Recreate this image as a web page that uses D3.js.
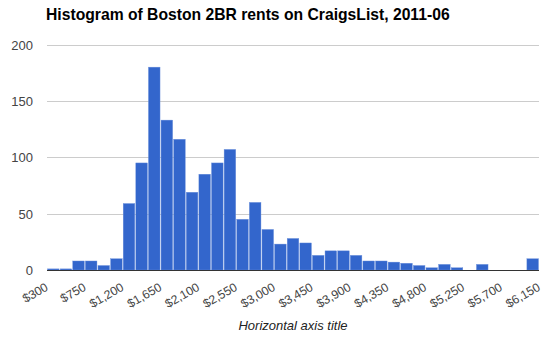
<!DOCTYPE html>
<html>
<head>
<meta charset="utf-8">
<script src="https://cdn.jsdelivr.net/npm/d3@7"></script>
<style>
  html, body { margin: 0; padding: 0; background: #fff; }
  svg { display: block; font-family: "Liberation Sans", Arial, sans-serif; }
</style>
</head>
<body>
<svg id="chart" width="550" height="338"></svg>
<script>
// Lower edge of each $150 rent bin
const binStarts = [300, 450, 600, 750, 900, 1050, 1200, 1350, 1500, 1650, 1800, 1950, 2100,
  2250, 2400, 2550, 2700, 2850, 3000, 3150, 3300, 3450, 3600, 3750, 3900, 4050, 4200,
  4350, 4500, 4650, 4800, 4950, 5100, 5250, 5400, 5550, 5700, 5850, 6000];
// Number of listings in each bin
const counts = [1, 1, 8, 8, 4, 10, 59, 95, 180, 133, 116, 69, 85, 95, 107, 45, 60, 36, 23,
  28, 24, 13, 17, 17, 13, 8, 8, 7, 6, 4, 2, 5, 2, 0, 5, 0, 0, 0, 10];
const binWidth = 150;
const xTicks = [300, 750, 1200, 1650, 2100, 2550, 3000, 3450, 3900, 4350, 4800, 5250, 5700, 6150];
const yTicks = [0, 50, 100, 150, 200];

const titleText = "Histogram of Boston 2BR rents on CraigsList, 2011-06";
const xTitle = "Horizontal axis title";

const svg = d3.select("#chart");
const plotLeft = 47, plotRight = 539, plotTop = 44.6, plotBottom = 270;

const x = d3.scaleLinear().domain([300, 6150]).range([plotLeft, plotRight]);
const y = d3.scaleLinear().domain([0, 200]).range([plotBottom, plotTop]);

// Gridlines and value labels
const yAxis = d3.axisLeft(y).tickValues(yTicks.filter(v => v > 0))
  .tickSize(-(plotRight - plotLeft)).tickFormat("");
svg.append("g")
  .attr("transform", `translate(${plotLeft},0)`)
  .call(yAxis)
  .call(g => g.select(".domain").remove())
  .call(g => g.selectAll("line").attr("stroke", "#cccccc").attr("stroke-width", 1)
    .attr("shape-rendering", "crispEdges"));

svg.append("g").selectAll("text")
  .data(yTicks)
  .join("text")
  .attr("x", 33)
  .attr("y", d => y(d) + 5)
  .attr("text-anchor", "end")
  .attr("font-size", 13)
  .attr("fill", "#444444")
  .text(d => d);

// Bars
svg.append("g").selectAll("rect")
  .data(counts.map((c, i) => ({ start: binStarts[i], count: c })).filter(d => d.count > 0))
  .join("rect")
  .attr("x", d => x(d.start) + 0.5)
  .attr("width", d => x(d.start + binWidth) - x(d.start) - 1)
  .attr("y", d => y(d.count))
  .attr("height", d => y(0) - y(d.count))
  .attr("fill", "#3366cc")
  .attr("stroke", "#6f93dd")
  .attr("stroke-width", 0.4);

// Baseline
svg.append("line")
  .attr("x1", plotLeft).attr("x2", plotRight)
  .attr("y1", y(0) + 0.5).attr("y2", y(0) + 0.5)
  .attr("stroke", "#333333").attr("stroke-width", 1);

// Slanted rent labels
const fmt = d => "$" + d3.format(",")(d);
svg.append("g").selectAll("text")
  .data(xTicks)
  .join("text")
  .attr("transform", d => `translate(${x(d) + 2},289.5) rotate(-30)`)
  .attr("text-anchor", "end")
  .attr("font-size", 12.2)
  .attr("fill", "#444444")
  .text(fmt);

// Titles
svg.append("text")
  .attr("x", 46).attr("y", 20)
  .attr("font-size", 15.7).attr("font-weight", "bold")
  .attr("fill", "#000000")
  .text(titleText);

svg.append("text")
  .attr("x", (plotLeft + plotRight) / 2).attr("y", 330)
  .attr("text-anchor", "middle")
  .attr("font-size", 13).attr("font-style", "italic")
  .attr("fill", "#222222")
  .text(xTitle);
</script>
</body>
</html>
